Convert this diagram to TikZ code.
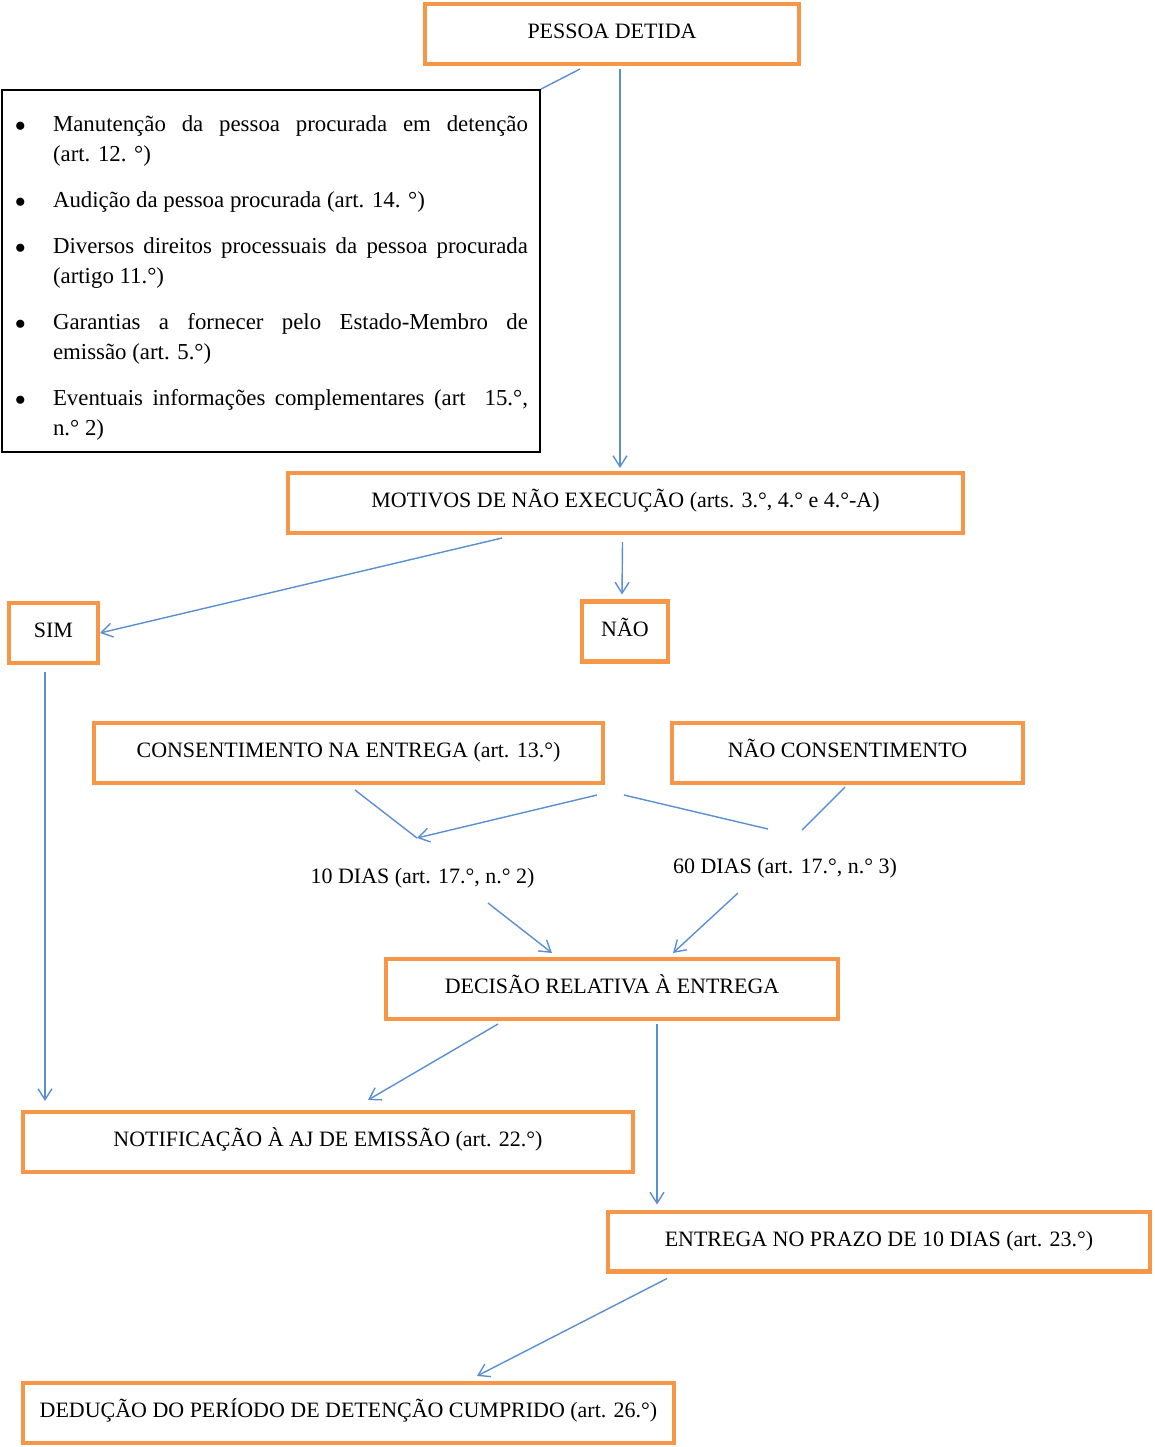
\documentclass[tikz,border=0pt]{standalone}
\usepackage{fontspec}
\setmainfont{Liberation Serif}
\usepackage{enumitem}
\usetikzlibrary{arrows.meta,calc}
\definecolor{laranja}{HTML}{F79646}
\definecolor{azul}{HTML}{5B8FD0}
\tikzset{etapa/.style={draw=laranja,line width=2.3pt,minimum height=1.2cm,align=center,font=\fontsize{12.5}{15}\selectfont,text height=0.75em,text depth=0.2em,inner sep=4pt},nota/.style={font=\fontsize{12.5}{15}\selectfont,inner sep=0pt},fluxo/.style={-{Straight Barb[length=2.2mm,width=2.8mm]},draw=azul,line width=0.8pt},traco/.style={draw=azul,line width=0.8pt}}

\begin{document}
\begin{tikzpicture}[x=0.02cm,y=-0.02cm]
\useasboundingbox (0,0) rectangle (1154,1447);
\node[etapa,minimum width=7.48cm] (pessoa) at (612,34) {PESSOA DETIDA};
\node[draw=black,line width=1pt,minimum width=10.76cm,minimum height=7.24cm,text width=10.28cm,inner xsep=0.24cm,align=justify,font=\fontsize{13}{17.07}\selectfont] (lista) at (271,271) {%
\begin{itemize}[label={$\bullet$},leftmargin=0.78cm,labelindent=0.02cm,labelwidth=0.3cm,labelsep=0.46cm,align=left,itemsep=9.1pt,parsep=0pt,topsep=0pt,partopsep=0pt]
\item Manutenção da pessoa procurada em detenção\linebreak (art. 12. °)
\item Audição da pessoa procurada (art. 14. °)
\item Diversos direitos processuais da pessoa procurada\linebreak (artigo 11.°)
\item Garantias a fornecer pelo Estado-Membro de\linebreak emissão (art. 5.°)
\item Eventuais informações complementares (art\ \ 15.°,\linebreak n.° 2)
\end{itemize}};
\node[etapa,minimum width=13.5cm] (motivos) at (625.5,503) {MOTIVOS DE NÃO EXECUÇÃO (arts. 3.°, 4.° e 4.°-A)};
\node[etapa,minimum width=1.78cm] (sim) at (53.5,633) {SIM};
\node[etapa,minimum width=1.72cm] (nao) at (625,631.5) {NÃO};
\node[etapa,minimum width=10.18cm] (consent) at (348.5,753) {CONSENTIMENTO NA ENTREGA (art. 13.°)};
\node[etapa,minimum width=7.02cm] (naocons) at (847.5,753) {NÃO CONSENTIMENTO};
\node[nota] (dez) at (422.5,878) {10 DIAS (art. 17.°, n.° 2)};
\node[nota] (sessenta) at (785,868) {60 DIAS (art. 17.°, n.° 3)};
\node[etapa,minimum width=9.04cm] (decisao) at (612,989) {DECISÃO RELATIVA À ENTREGA};
\node[etapa,minimum width=12.2cm] (notif) at (328,1142) {NOTIFICAÇÃO À AJ DE EMISSÃO (art. 22.°)};
\node[etapa,minimum width=10.84cm] (entrega) at (879,1241.5) {ENTREGA NO PRAZO DE 10 DIAS (art. 23.°)};
\node[etapa,minimum width=13.02cm] (deducao) at (348.5,1413) {DEDUÇÃO DO PERÍODO DE DETENÇÃO CUMPRIDO (art. 26.°)};
\coordinate (j10) at ($(dez)+(-5.5,-40)$);
\coordinate (j60) at ($(sessenta)+(0,-38)$);
\draw[traco] ($(pessoa.south)+(-32,3)$) -- (lista.north east);
\draw[fluxo] ($(pessoa.south)+(8,3)$) -- ($(motivos.north)+(-5.5,-3)$);
\draw[fluxo] ($(motivos.south)+(-123.5,3)$) -- (sim.east);
\draw[fluxo] ($(motivos.south)+(-3,7)$) -- ($(nao.north)+(-3,-5)$);
\draw[fluxo] ($(sim.south)+(-8.5,7)$) -- ($(notif.north)+(-283,-9)$);
\draw[traco] ($(consent.south)+(6.5,5)$) -- (j10);
\draw[fluxo] ($(consent.south east)+(-8,10)$) -- (j10);
\draw[traco] ($(consent.south east)+(19,10)$) -- ($(j60)+(-17,-1)$);
\draw[traco] ($(naocons.south)+(-2.5,2)$) -- ($(j60)+(17,0)$);
\draw[fluxo] ($(dez)+(65.5,25)$) -- ($(decisao.north)+(-60,-4)$);
\draw[fluxo] ($(sessenta)+(-47,25)$) -- ($(decisao.north)+(61,-4)$);
\draw[fluxo] ($(decisao.south)+(-114,3)$) -- ($(notif.north)+(40,-10)$);
\draw[fluxo] ($(decisao.south)+(45,3)$) -- ($(entrega.north)+(-222,-5)$);
\draw[fluxo] ($(entrega.south)+(-212,5)$) -- ($(deducao.north)+(128.5,-5)$);
\end{tikzpicture}
\end{document}
